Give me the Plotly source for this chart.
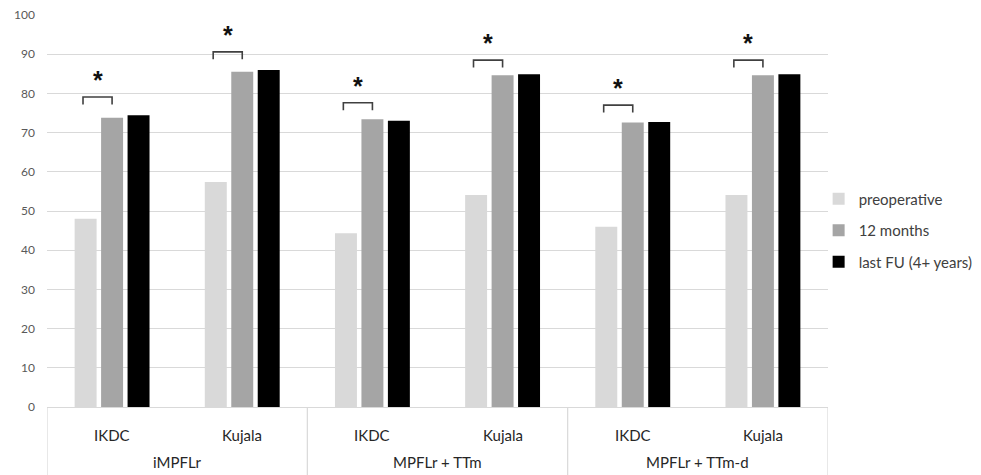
import plotly.graph_objects as go

groups = ["iMPFLr", "MPFLr + TTm", "MPFLr + TTm-d"]
scores = ["IKDC", "Kujala"]
categories = [(g, s) for g in groups for s in scores]

preoperative = [48.0, 57.4, 44.3, 54.1, 46.0, 54.1]
months_12 = [73.8, 85.5, 73.4, 84.6, 72.6, 84.6]
last_fu = [74.4, 86.0, 73.0, 84.9, 72.7, 84.9]
# level of the significance bracket (preoperative vs 12 months)
bracket_level = [79.1, 90.6, 77.6, 88.5, 77.0, 88.5]

series_names = ["preoperative", "12 months", "last FU (4+ years)"]
series_colors = ["#d9d9d9", "#a5a5a5", "#000000"]
y_ticks = [0, 10, 20, 30, 40, 50, 60, 70, 80, 90, 100]

W, H = 981, 475
ML, MR, MT, MB = 47, 153, 15, 68
plot_h = H - MT - MB

BARGAP = 0.39
xs = list(range(len(categories)))

fig = go.Figure()
for i, (name, vals, col) in enumerate(zip(series_names, [preoperative, months_12, last_fu], series_colors)):
    fig.add_trace(go.Bar(
        x=xs, y=vals, name=name, marker_color=col, marker_line_width=0,
        legendgroup=f"g{i}", hoverinfo="y+name",
    ))

shapes = []
annotations = []
slot = (1 - BARGAP) / 3

for i, x in enumerate(xs):
    top = bracket_level[i]
    x0 = x - slot - 0.02
    x1 = x
    shapes.append(dict(
        type="path", xref="x", yref="y",
        path=f"M {x0} {top-1.9} L {x0} {top} L {x1} {top} L {x1} {top-1.9}",
        line=dict(color="#404040", width=1.6),
    ))
    annotations.append(dict(
        x=(x0 + x1) / 2, y=top + 4.3, xref="x", yref="y", text="<b>*</b>",
        showarrow=False, yanchor="middle",
        font=dict(size=25, color="#111111", family="Liberation Sans"),
    ))

for i, (g, s) in enumerate(categories):
    annotations.append(dict(
        x=xs[i], y=0, xref="x", yref="paper", yshift=-28, text=s,
        showarrow=False, yanchor="middle",
        font=dict(size=15, color="#262626", family="Lato"),
    ))

n_sub = len(scores)
for gi, g in enumerate(groups):
    cx = gi * n_sub + (n_sub - 1) / 2
    annotations.append(dict(
        x=cx, y=0, xref="x", yref="paper", yshift=-55, text=g,
        showarrow=False, yanchor="middle",
        font=dict(size=15, color="#262626", family="Lato"),
    ))
for k in range(len(groups) + 1):
    xd = k * n_sub - 0.5
    shapes.append(dict(
        type="line", xref="x", yref="paper", x0=xd, x1=xd, y0=0, y1=-MB / plot_h,
        line=dict(color="#d9d9d9", width=1.2),
    ))

fig.update_layout(
    width=W, height=H,
    margin=dict(l=ML, r=MR, t=MT, b=MB, autoexpand=False),
    paper_bgcolor="white", plot_bgcolor="white",
    barmode="group", bargap=BARGAP, bargroupgap=0.17,
    font=dict(family="Lato", color="#404040"),
    xaxis=dict(
        range=[-0.5, len(categories) - 0.5], showticklabels=False, showgrid=False,
        zeroline=False, showline=True, linecolor="#d9d9d9", linewidth=1.2, ticks="",
    ),
    yaxis=dict(
        range=[0, 100], tickvals=y_ticks, showgrid=True, gridcolor="#d9d9d9",
        gridwidth=1.2, zeroline=False, showline=False,
        tickfont=dict(size=12, color="#595959", family="Lato"),
        ticklabelstandoff=11,
    ),
    legend=dict(
        x=0.988, y=0.45, xanchor="left", yanchor="middle",
        font=dict(size=15, color="#404040", family="Lato"),
        traceorder="grouped", tracegroupgap=9, itemwidth=30,
        bgcolor="rgba(0,0,0,0)",
    ),
    shapes=shapes, annotations=annotations,
)

fig.write_html(
    "out.html",
    config={"displayModeBar": False},
    post_script="document.body.style.margin='0';document.body.style.overflow='hidden';",
)
